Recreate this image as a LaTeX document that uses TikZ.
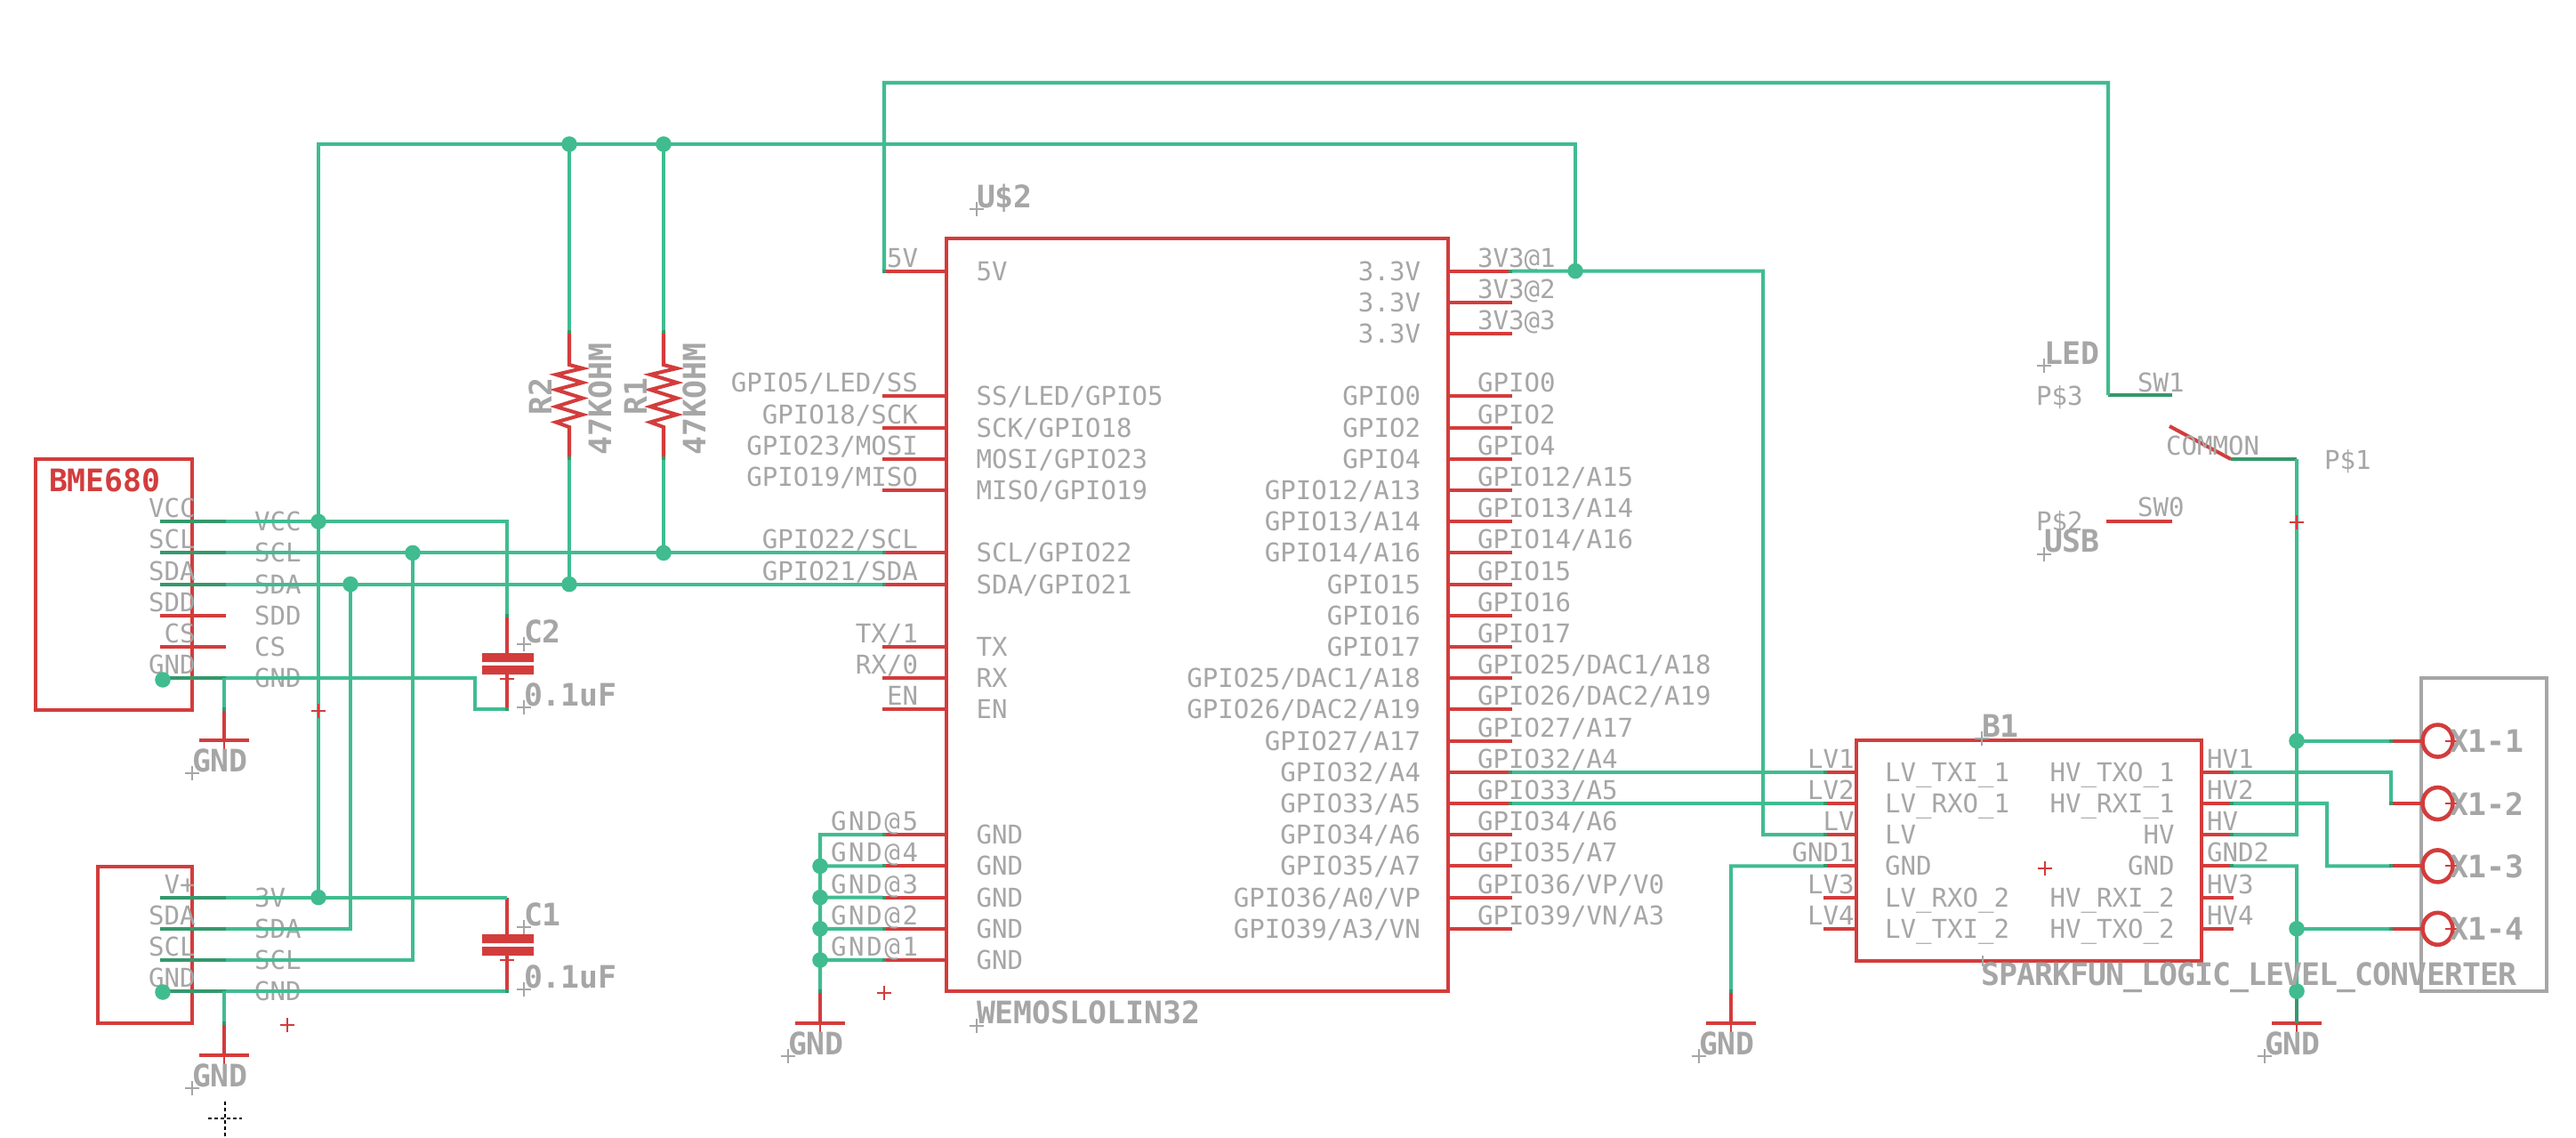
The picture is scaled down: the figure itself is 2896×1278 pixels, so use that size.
\documentclass[tikz,border=0pt]{standalone}
\usepackage{fontspec}
\newfontfamily\eagle{DejaVu Sans Mono}
\definecolor{ered}{HTML}{D33C3C}
\definecolor{egreen}{HTML}{40BC90}
\definecolor{edark}{HTML}{35986C}
\definecolor{egray}{HTML}{A6A6A6}
\newcounter{lb}
\newcommand\wider[1]{{\addfontfeature{LetterSpace=9}#1}}
\tikzset{
  wire/.style={draw=egreen,line width=2.3pt,line cap=butt,line join=miter},
  pinline/.style={draw=ered,line width=2.3pt},
  pindark/.style={draw=edark,line width=2.3pt},
  body/.style={draw=ered,line width=2.5pt},
  thinred/.style={draw=ered,line width=1.1pt},
  thingray/.style={draw=egray,line width=1.1pt},
  lab/.style={inner sep=0pt,outer sep=0pt,text=egray,font=\eagle\fontsize{16.55}{16.55}\selectfont},
  big/.style={inner sep=0pt,outer sep=0pt,text=egray,font=\eagle\bfseries\fontsize{19.8}{19.8}\selectfont},
  junction/.style={circle,fill=egreen,draw=none,minimum size=10pt,inner sep=0pt}
}
% text helpers: every node gets a generated name
\newcommand\LL[3]{\stepcounter{lb}\node[lab,anchor=base west,name=T\thelb] at (#1,#2) {#3};}
\newcommand\LR[3]{\stepcounter{lb}\node[lab,anchor=base east,name=T\thelb] at (#1,#2) {#3};}
\newcommand\BL[3]{\stepcounter{lb}\node[big,anchor=base west,name=T\thelb] at (#1,#2) {#3};
  \draw[thingray] (#1-8,#2+2) -- (#1+8,#2+2) (#1,#2-6) -- (#1,#2+10);}
\newcommand\RC[2]{\draw[thinred] (#1-8,#2) -- (#1+8,#2) (#1,#2-8) -- (#1,#2+8);}
\newcommand\JJ[2]{\stepcounter{lb}\node[junction,name=J\thelb] at (#1,#2) {};}
\newcommand\DK[2]{\fill[edark] (#1-2.2,#2-2) rectangle (#1+2.2,#2+2);}
% chip pins, by grid row
\newcommand\RP[3]{\pgfmathsetmacro\yy{586.2+35.2*(#1)}
  \draw[pinline] (1628,\yy) -- (1700,\yy) coordinate (rp#1);
  \LL{1661}{\yy-4.5}{#2}\LR{1597}{\yy+10.5}{#3}}
\newcommand\LP[3]{\pgfmathsetmacro\yy{586.2+35.2*(#1)}
  \draw[pinline] (992,\yy) coordinate (lp#1) -- (1064,\yy);
  \LR{1032}{\yy-4.5}{#2}\LL{1097.6}{\yy+10.5}{#3}}
\newcommand\BLP[3]{\pgfmathsetmacro\yy{586.2+35.2*(#1)}
  \draw[pinline] (2050,\yy) coordinate (bl#1) -- (2087,\yy);
  \LR{2084.6}{\yy-4.5}{#2}\LL{2119}{\yy+10.5}{#3}}
\newcommand\BRP[3]{\pgfmathsetmacro\yy{586.2+35.2*(#1)}
  \draw[pinline] (2475,\yy) -- (2511,\yy) coordinate (br#1);
  \LL{2481}{\yy-4.5}{#2}\LR{2444.6}{\yy+10.5}{#3}}
% sensor module pins
\newcommand\SP[5]{\draw[#4] (180,#1) -- (254,#1) coordinate (s#5);
  \LR{219.6}{#1-4.5}{#2}\LL{286}{#1+10.5}{#3}}
% ground symbol
\newcommand\GS[3]{\draw[thinred] (#1,#3) -- (#1,#3+10);
  \draw[pinline] (#1,#2) -- (#1,#3);
  \draw[pinline] (#1-28,#3) -- (#1+28,#3);
  \BL{#1-36}{#3+35}{GND}}
% capacitor
\newcommand\CAP[5]{\draw[pinline] (570,#1) -- (570,#2+6) (570,#2+22) -- (570,#3);
  \fill[ered] (542,#2) rectangle (600,#2+10) (542,#2+14) rectangle (600,#2+24);
  \RC{570}{#2+29}
  \BL{589}{#4}{#5}}
% resistor
\newcommand\RES[1]{\draw[pinline,line join=miter] (#1,373) -- (#1,410) -- (#1+15,414) -- (#1-15,421) -- (#1+15,430) -- (#1-15,438) -- (#1+15,447.5) -- (#1-15,457) -- (#1+15,466) -- (#1-15,474.5) -- (#1,480) -- (#1,515);}
% connector contact
\newcommand\XP[2]{\draw[pinline] (2688,#1) -- (2722,#1);
  \draw[draw=ered,line width=2.6pt] (2740.5,#1) ellipse (17 and 18);
  \RC{2757}{#1}
  \stepcounter{lb}\node[big,anchor=base west,name=T\thelb] at (2754,#1+13) {#2};}
\begin{document}
\begin{tikzpicture}[x=0.02cm,y=-0.02cm]
\useasboundingbox (0,0) rectangle (2896,1278);
\fill[white] (0,0) rectangle (2896,1278);

% bodies
\draw[body] (40,516) rectangle (216,798);
\draw[body] (110,974) rectangle (216,1150);
\draw[body] (1064,268) rectangle (1628,1114);
\draw[body] (2087,832) rectangle (2475,1080);
\draw[draw=egray,line width=2.5pt] (2722,762) rectangle (2863,1114);

% sensor pins
\SP{586.2}{VCC}{VCC}{pindark}{a}
\SP{621.4}{SCL}{SCL}{pindark}{b}
\SP{656.6}{SDA}{SDA}{pindark}{c}
\SP{691.8}{SDD}{SDD}{pinline}{d}
\SP{727}{CS}{CS}{pinline}{e}
\SP{762.2}{GND}{GND}{pindark}{f}
\SP{1008.6}{V+}{3V}{pindark}{g}
\SP{1043.8}{SDA}{SDA}{pindark}{h}
\SP{1079}{SCL}{SCL}{pindark}{i}
\SP{1114.2}{GND}{GND}{pindark}{j}

% wemos left
\LP{-8}{5V}{5V}
\LP{-4}{GPIO5/LED/SS}{SS/LED/GPIO5}
\LP{-3}{GPIO18/SCK}{SCK/GPIO18}
\LP{-2}{GPIO23/MOSI}{MOSI/GPIO23}
\LP{-1}{GPIO19/MISO}{MISO/GPIO19}
\LP{1}{GPIO22/SCL}{SCL/GPIO22}
\LP{2}{GPIO21/SDA}{SDA/GPIO21}
\LP{4}{TX/1}{TX}
\LP{5}{RX/0}{RX}
\LP{6}{EN}{EN}
\LP{10}{\wider{GND@5}}{GND}
\LP{11}{\wider{GND@4}}{GND}
\LP{12}{\wider{GND@3}}{GND}
\LP{13}{\wider{GND@2}}{GND}
\LP{14}{\wider{GND@1}}{GND}
% wemos right
\RP{-8}{3V3@1}{3.3V}
\RP{-7}{3V3@2}{3.3V}
\RP{-6}{3V3@3}{3.3V}
\RP{-4}{GPIO0}{GPIO0}
\RP{-3}{GPIO2}{GPIO2}
\RP{-2}{GPIO4}{GPIO4}
\RP{-1}{GPIO12/A15}{GPIO12/A13}
\RP{0}{GPIO13/A14}{GPIO13/A14}
\RP{1}{GPIO14/A16}{GPIO14/A16}
\RP{2}{GPIO15}{GPIO15}
\RP{3}{GPIO16}{GPIO16}
\RP{4}{GPIO17}{GPIO17}
\RP{5}{GPIO25/DAC1/A18}{GPIO25/DAC1/A18}
\RP{6}{GPIO26/DAC2/A19}{GPIO26/DAC2/A19}
\RP{7}{GPIO27/A17}{GPIO27/A17}
\RP{8}{GPIO32/A4}{GPIO32/A4}
\RP{9}{GPIO33/A5}{GPIO33/A5}
\RP{10}{GPIO34/A6}{GPIO34/A6}
\RP{11}{GPIO35/A7}{GPIO35/A7}
\RP{12}{GPIO36/VP/V0}{GPIO36/A0/VP}
\RP{13}{GPIO39/VN/A3}{GPIO39/A3/VN}
% level converter
\BLP{8}{LV1}{LV\_TXI\_1}
\BLP{9}{LV2}{LV\_RXO\_1}
\BLP{10}{LV}{LV}
\BLP{11}{GND1}{GND}
\BLP{12}{LV3}{LV\_RXO\_2}
\BLP{13}{LV4}{LV\_TXI\_2}
\BRP{8}{HV1}{HV\_TXO\_1}
\BRP{9}{HV2}{HV\_RXI\_1}
\BRP{10}{HV}{HV}
\BRP{11}{GND2}{GND}
\BRP{12}{HV3}{HV\_RXI\_2}
\BRP{13}{HV4}{HV\_TXO\_2}

% resistors and capacitors
\RES{640}
\RES{746}
\CAP{691.8}{734}{797.4}{722}{C2}
\CAP{1008.6}{1050}{1114.2}{1040}{C1}
\BL{589}{793}{0.1uF}
\BL{589}{1110}{0.1uF}
\stepcounter{lb}\node[big,rotate=90,anchor=base west,name=T\thelb] at (620,466) {R2};
\stepcounter{lb}\node[big,rotate=90,anchor=base west,name=T\thelb] at (727,466) {R1};
\stepcounter{lb}\node[big,rotate=90,anchor=base west,name=T\thelb] at (687,511) {47KOHM};
\stepcounter{lb}\node[big,rotate=90,anchor=base west,name=T\thelb] at (793,511) {47KOHM};

% connector contacts
\XP{832.6}{X1-1}
\XP{903}{X1-2}
\XP{973.4}{X1-3}
\XP{1043.8}{X1-4}

% switch
\draw[pinline] (2368,586) -- (2442,586);
\draw[pindark] (2370,444) coordinate (sw1) -- (2442,444);
\draw[pinline] (2439,479) -- (2508,516);
\draw[pindark] (2508,516) -- (2582,516) coordinate (com);

% ground symbols
\GS{252}{797}{832}
\GS{252}{1150}{1186}
\GS{922}{1114}{1150}
\GS{1946}{1114}{1150}
\GS{2582}{1115}{1150}

% nets
\coordinate (c3v) at (1771,304.6);
\draw[wire] (358,1008.6) -- (358,162) -- (1771,162) -- (c3v);
\draw[wire] (rp-8) -- (1982,304.6) -- (1982,938.2) -- (bl10);
\draw[wire] (sa) -- (570,586.2) -- (570,691.8);
\draw[wire] (sf) -- (534,762.2) -- (534,797.4) -- (570,797.4);
\draw[wire] (sb) -- (lp1);
\draw[wire] (sc) -- (lp2);
\draw[wire] (640,162) -- (640,373) (640,515) -- (640,656.6);
\draw[wire] (746,162) -- (746,373) (746,515) -- (746,621.4);
\draw[wire] (sg) -- (570,1008.6);
\draw[wire] (sj) -- (570,1114.2);
\draw[wire] (sh) -- (394,1043.8) -- (394,656.6);
\draw[wire] (si) -- (464,1079) -- (464,621.4);
\draw[wire] (252,762.2) -- (252,797);
\draw[wire] (252,1114.2) -- (252,1150);
\draw[wire] (lp-8) -- (994,304.6) -- (994,93) -- (2370,93) -- (sw1);
\draw[wire] (lp10) -- (922,938.2) -- (922,1114);
\draw[wire] (lp11) -- (922,973.4) (lp12) -- (922,1008.6) (lp13) -- (922,1043.8) (lp14) -- (922,1079);
\draw[wire] (rp8) -- (bl8);
\draw[wire] (rp9) -- (bl9);
\draw[wire] (bl11) -- (1946,973.4) -- (1946,1114);
\draw[wire] (br8) -- (2688,867.8) -- (2688,903);
\draw[wire] (br9) -- (2616,903) -- (2616,973.4) -- (2688,973.4);
\draw[wire] (br10) -- (2582,938.2) -- (com);
\draw[wire] (br11) -- (2582,973.4) -- (2582,1115);
\draw[wire] (2582,832.6) -- (2688,832.6);
\draw[wire] (2582,1043.8) -- (2688,1043.8);
\draw[pindark] (2582,1115) -- (2582,1150);

% overlaps of wire on pin
\DK{994}{304.6}\DK{994}{621.4}\DK{994}{656.6}
\DK{994}{938.2}\DK{994}{973.4}\DK{994}{1008.6}\DK{994}{1043.8}\DK{994}{1079}
\DK{1698}{304.6}\DK{1698}{867.8}\DK{1698}{903}
\DK{2052}{867.8}\DK{2052}{903}\DK{2052}{938.2}\DK{2052}{973.4}
\DK{2509}{867.8}\DK{2509}{903}\DK{2509}{938.2}\DK{2509}{973.4}
\DK{2688}{832.6}\DK{2688}{903}\DK{2688}{973.4}\DK{2688}{1043.8}
\DK{640}{373}\DK{640}{515}\DK{746}{373}\DK{746}{515}
\DK{570}{691.8}\DK{570}{797.4}\DK{570}{1114.2}
\DK{252}{797}\DK{252}{1150}\DK{922}{1114}\DK{1946}{1114}

% junctions
\JJ{358}{586.2}\JJ{464}{621.4}\JJ{394}{656.6}\JJ{640}{656.6}\JJ{746}{621.4}
\JJ{640}{162}\JJ{746}{162}\JJ{358}{1008.6}\JJ{183}{764}\JJ{183}{1115}
\JJ{922}{973.4}\JJ{922}{1008.6}\JJ{922}{1043.8}\JJ{922}{1079}
\JJ{1771}{304.6}\JJ{2582}{832.6}\JJ{2582}{1043.8}\JJ{2582}{1114}

% origin marks
\RC{358}{799}
\RC{323}{1152}
\RC{994}{1116}
\RC{2299}{976}
\RC{2582}{587}

% part labels
\stepcounter{lb}\node[big,text=ered,anchor=base west,name=T\thelb] at (55,552) {BME680};
\BL{1098}{233}{U\$2}
\BL{1098}{1150.7}{WEMOSLOLIN32}
\BL{2228}{828}{B1}
\stepcounter{lb}\node[big,anchor=base west,name=T\thelb] at (2227,1107) {\addfontfeature{LetterSpace=-2.6}SPARKFUN\_LOGIC\_LEVEL\_CONVERTER};
\draw[thingray] (2229,1074) -- (2229,1086);
\BL{2298}{409}{LED}
\BL{2298}{620.7}{USB}

% switch labels
\LL{2403}{440.7}{SW1}
\LL{2403}{580.7}{SW0}
\LL{2435}{511}{COMMON}
\LL{2289}{455}{P\$3}
\LL{2289}{596}{P\$2}
\LL{2613}{527.7}{P\$1}

% drawing origin
\draw[black,line width=1.1pt,dash pattern=on 2pt off 2pt] (234,1257) -- (272,1257) (253,1238) -- (253,1278);
\end{tikzpicture}
\end{document}
